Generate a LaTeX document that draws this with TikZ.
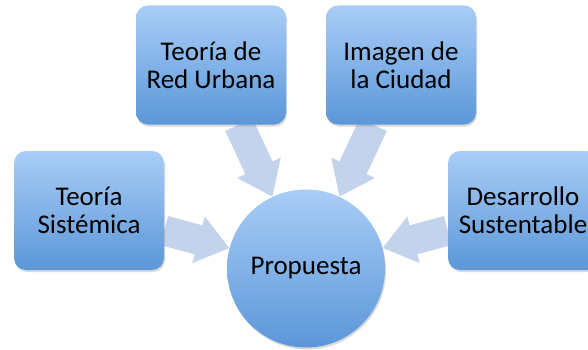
\documentclass[tikz,border=0pt]{standalone}
\usepackage{fontspec}
\setmainfont{Carlito}
\usetikzlibrary{arrows.meta,shadows,backgrounds}
\definecolor{boxtop}{HTML}{A9CDF7}
\definecolor{boxbot}{HTML}{5B97D8}
\definecolor{arrowblue}{HTML}{C3D3EC}

\begin{document}
\begin{tikzpicture}[x=1pt,y=1pt,
	box/.style={rectangle, rounded corners=12pt, minimum width=150pt, minimum height=119pt, inner sep=0pt,
		top color=boxtop, bottom color=boxbot, align=center,
		drop shadow={shadow xshift=1pt, shadow yshift=-2pt, opacity=0.3},
		font=\fontsize{27}{28}\selectfont},
	goal/.style={circle, minimum size=158pt, inner sep=0pt, top color=boxtop, bottom color=boxbot,
		drop shadow={shadow xshift=1pt, shadow yshift=-2pt, opacity=0.3},
		font=\fontsize{27}{28}\selectfont},
	bigarrow/.style={line width=30pt, arrowblue, -{Triangle[width=46pt,length=32pt]}}]
	\clip (0,0) rectangle (588,349);

	\node[box] (sis) at (89,138.5) {Teoría\\Sistémica};
	\node[box] (red) at (211,284) {Teoría de\\Red Urbana};
	\node[box] (ima) at (401,284) {Imagen de\\la Ciudad};
	\node[box] (des) at (523,138.5) {Desarrollo\\Sustentable};
	\node[goal] (prop) at (306,80.5) {Propuesta};

	\begin{scope}[on background layer]
		\draw[bigarrow] (sis) -- (prop);
		\draw[bigarrow] (red) -- (prop);
		\draw[bigarrow] (ima) -- (prop);
		\draw[bigarrow] (des) -- (prop);
	\end{scope}
\end{tikzpicture}
\end{document}
